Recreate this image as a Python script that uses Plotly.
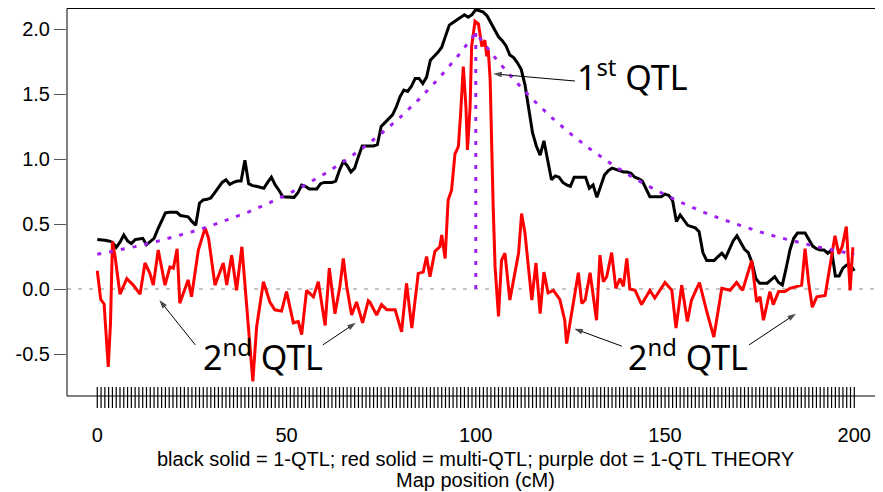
import plotly.graph_objects as go

# ---- data ----
black_pos = list(range(0, 201))
black_val = [0.38, 0.38, 0.375, 0.37, 0.36, 0.32, 0.36, 0.415, 0.37, 0.35,
             0.38, 0.385, 0.39, 0.34, 0.365, 0.39, 0.46, 0.52, 0.585, 0.59,
             0.59, 0.59, 0.565, 0.56, 0.555, 0.52, 0.49, 0.66, 0.685, 0.69,
             0.70, 0.74, 0.78, 0.82, 0.84, 0.805, 0.82, 0.83, 0.83, 0.99,
             0.81, 0.795, 0.79, 0.78, 0.775, 0.82, 0.86, 0.80, 0.76, 0.71,
             0.71, 0.71, 0.705, 0.74, 0.80, 0.79, 0.77, 0.77, 0.77, 0.81,
             0.82, 0.82, 0.82, 0.83, 0.915, 0.98, 0.95, 0.90, 0.93, 1.02,
             1.10, 1.10, 1.10, 1.10, 1.11, 1.25, 1.28, 1.31, 1.34, 1.40,
             1.48, 1.53, 1.52, 1.56, 1.62, 1.62, 1.58, 1.63, 1.76, 1.79,
             1.82, 1.86, 1.95, 2.03, 2.05, 2.07, 2.09, 2.11, 2.09, 2.11,
             2.15, 2.14, 2.13, 2.10, 2.05, 1.99, 1.94, 1.91, 1.87, 1.80,
             1.78, 1.74, 1.69, 1.57, 1.38, 1.20, 1.10, 1.03, 1.14, 1.00,
             0.84, 0.87, 0.86, 0.82, 0.80, 0.79, 0.86, 0.86, 0.86, 0.86,
             0.775, 0.80, 0.705, 0.80, 0.877, 0.91, 0.93, 0.92, 0.91, 0.90,
             0.90, 0.89, 0.86, 0.85, 0.83, 0.77, 0.71, 0.71, 0.71, 0.71,
             0.73, 0.72, 0.68, 0.52, 0.57, 0.53, 0.49, 0.48, 0.47, 0.44,
             0.28, 0.22, 0.22, 0.22, 0.25, 0.275, 0.24, 0.30, 0.37, 0.41,
             0.36, 0.305, 0.28, 0.20, 0.08, 0.045, 0.045, 0.045, 0.07, 0.095,
             0.05, 0.03, 0.16, 0.30, 0.39, 0.43, 0.43, 0.43, 0.38, 0.33,
             0.31, 0.30, 0.30, 0.275, 0.30, 0.10, 0.10, 0.16, 0.185, 0.185,
             0.14]

red_pos = [0, 0.9, 1.8, 2.9, 3.5, 4.0, 4.7, 6.0, 7.8, 9.5, 11.3, 12.6, 13.9, 14.8,
           16.1, 17.9, 19.2, 20.1, 21.1, 21.8, 24.0, 24.9, 26.7, 28.5, 29.4, 31.1,
           33.3, 34.2, 35.5, 36.8, 38.2, 39.5, 40.3, 41.1, 42.1, 43.9, 45.6, 46.9,
           48.7, 50.0, 51.8, 53.1, 54.0, 55.3, 57.1, 58.4, 60.2, 61.3, 62.8, 64.1,
           65.0, 65.9, 67.2, 68.5, 70.1, 71.6, 72.0, 73.8, 75.1, 76.5, 78.7, 80.4,
           81.7, 83.1, 84.8, 86.1, 87.0, 87.9, 89.2, 90.5, 91.0, 91.9, 92.7, 93.6,
           94.5, 95.4, 96.0, 96.7, 97.4, 97.8, 98.5, 98.9, 99.8, 100.7, 101.6,
           102.4, 102.9, 103.3, 103.8, 104.2, 104.6, 105.1, 106.0, 106.8, 107.7,
           109.0, 110.4, 111.3, 112.1, 113.0, 113.9, 114.8, 115.9, 117.0, 118.0,
           119.1, 120.5, 122.2, 123.5, 124.0, 125.3, 127.1, 128.0, 128.9, 130.2,
           131.9, 132.8, 133.7, 134.6, 135.9, 137.0, 138.1, 139.0, 139.9, 140.7,
           142.1, 143.8, 146.0, 147.3, 150.0, 151.8, 152.9, 154.4, 155.9, 157.0,
           159.1, 161.0, 162.9, 165.0, 167.2, 168.9, 170.5, 172.9, 174.2, 175.1,
           176.0, 177.7, 178.6, 180.0, 181.7, 183.0, 185.2, 186.1, 187.0, 187.9,
           188.9, 190.1, 192.3, 193.6, 194.9, 195.9, 196.8, 197.9, 198.9, 199.6,
           200.0]
red_val = [0.14, -0.08, -0.115, -0.60, -0.26, 0.365, 0.25, -0.04, 0.08, 0.03, -0.04,
           0.20, 0.12, 0.03, 0.30, 0.03, 0.17, 0.16, 0.31, -0.11, 0.07, -0.06, 0.30,
           0.47, 0.39, 0.03, 0.20, 0.03, 0.26, -0.01, 0.325, -0.12, -0.37, -0.71,
           -0.29, 0.056, -0.10, -0.16, -0.17, -0.02, -0.26, -0.25, -0.35, -0.01,
           -0.06, 0.056, -0.28, 0.16, -0.19, 0.02, 0.235, 0.02, -0.20, -0.10, -0.26,
           -0.09, -0.10, -0.20, -0.12, -0.16, -0.16, -0.33, 0.044, -0.30, 0.12, 0.13,
           0.25, 0.095, 0.29, 0.325, 0.415, 0.235, 0.685, 0.76, 1.04, 1.095, 1.35,
           1.71, 1.40, 1.07, 1.40, 1.865, 2.06, 2.04, 1.865, 1.915, 1.79, 1.84, 1.61,
           1.07, 0.63, 0.17, -0.21, 0.22, 0.275, -0.085, 0.12, 0.275, 0.58, 0.43,
           0.17, -0.085, 0.20, -0.19, 0.13, -0.03, -0.01, -0.08, -0.24, -0.42, -0.19,
           0.125, -0.11, -0.085, 0.125, -0.24, 0.26, 0.056, 0.095, 0.28, 0.005, 0.08,
           0.02, 0.235, 0.0, -0.01, -0.12, -0.01, -0.07, 0.05, -0.01, -0.30, 0.03,
           -0.25, -0.085, 0.05, -0.17, -0.37, 0.005, -0.01, 0.05, -0.01, 0.22, -0.10,
           -0.06, -0.24, -0.02, -0.12, -0.02, -0.02, 0.005, 0.02, 0.03, 0.31, 0.06,
           -0.14, -0.06, -0.05, 0.19, 0.41, 0.27, 0.325, 0.48, -0.01, 0.31, 0.31]

theory_pos = list(range(0, 201, 5))
theory_val = [0.267, 0.295, 0.326, 0.360, 0.398, 0.440, 0.486, 0.537, 0.593, 0.656,
              0.725, 0.801, 0.885, 0.978, 1.081, 1.195, 1.320, 1.459, 1.613, 1.782,
              1.970,
              1.782, 1.613, 1.459, 1.320, 1.195, 1.081, 0.978, 0.885, 0.801, 0.725,
              0.656, 0.593, 0.537, 0.486, 0.440, 0.398, 0.360, 0.326, 0.295, 0.267]
qtl1_pos = 100
qtl1_peak = 1.97

markers = list(range(0, 201))

x_ticks = [0, 50, 100, 150, 200]
y_ticks = [-0.5, 0.0, 0.5, 1.0, 1.5, 2.0]
y_ticktext = ["-0.5", "0.0", "0.5", "1.0", "1.5", "2.0"]

# ---- geometry (page pixels; the page body has an 8px margin) ----
OFF = 8
W, H = 883 - OFF, 492 - OFF
PLOT_LEFT_PG, PLOT_TOP_PG, PLOT_BOT_PG = 67, 8, 408
ML = PLOT_LEFT_PG - OFF
MT = PLOT_TOP_PG - OFF
MB = (H + OFF) - PLOT_BOT_PG
plot_h = H - MT - MB
Y0_PG = 289.0
PX_PER_UNIT = 130.0
y_top = (Y0_PG - PLOT_TOP_PG) / PX_PER_UNIT
y_bot = (Y0_PG - PLOT_BOT_PG) / PX_PER_UNIT
X_PER_CM = 3.785
x_lo = -8.0
x_hi = x_lo + (W - ML) / X_PER_CM


def pg_to_paper(py):
    return (PLOT_BOT_PG - py) / plot_h


PURPLE_DASH = "4px,8px"

fig = go.Figure()

fig.add_trace(go.Scatter(x=black_pos, y=black_val, mode="lines",
                         line=dict(color="black", width=3), hoverinfo="skip"))
fig.add_trace(go.Scatter(x=red_pos, y=red_val, mode="lines",
                         line=dict(color="#FF0000", width=3), hoverinfo="skip"))
fig.add_trace(go.Scatter(x=theory_pos, y=theory_val, mode="lines",
                         line=dict(color="#A020F0", width=3, dash=PURPLE_DASH),
                         hoverinfo="skip"))
fig.add_trace(go.Scatter(x=[qtl1_pos, qtl1_pos], y=[0, qtl1_peak], mode="lines",
                         line=dict(color="#A020F0", width=3, dash=PURPLE_DASH),
                         hoverinfo="skip"))

# rug of marker positions
rug_top = (Y0_PG - 387) / PX_PER_UNIT
rx, ry = [], []
for m in markers:
    rx += [m, m, None]
    ry += [rug_top, y_bot, None]
fig.add_trace(go.Scatter(x=rx, y=ry, mode="lines",
                         line=dict(color="black", width=1.2), hoverinfo="skip"))

# arrows (tail -> head), as line + arrow marker
arrows = [
    ((126.2, 1.60), (104.6, 1.655)),
    ((25.9, -0.43), (16.4, -0.085)),
    ((59.6, -0.43), (68.3, -0.26)),
    ((138.6, -0.44), (126.0, -0.305)),
    ((172.2, -0.43), (184.6, -0.19)),
]
for (tx, ty), (hx, hy) in arrows:
    fig.add_trace(go.Scatter(
        x=[tx, hx], y=[ty, hy], mode="lines+markers",
        line=dict(color="black", width=1),
        marker=dict(symbol=["circle", "arrow"], size=[0, 9], color="black",
                    angleref="previous", line=dict(width=0)),
        hoverinfo="skip"))

shapes = [
    dict(type="line", xref="paper", yref="y", x0=0, x1=1, y0=0, y1=0,
         line=dict(color="#C4C4C4", width=2, dash="4px,7px"), layer="below"),
    dict(type="rect", xref="paper", yref="paper", x0=0, x1=1.01,
         y0=pg_to_paper(396), y1=pg_to_paper(8.5),
         line=dict(color="black", width=1), fillcolor="rgba(0,0,0,0)"),
]

ann_font = dict(family="Noto Sans", size=34, color="black")
annotations = [
    dict(x=126.3, y=1.645, xref="x", yref="y", text="1<sup>st</sup> QTL",
         showarrow=False, xanchor="left", yanchor="middle", font=ann_font),
    dict(x=27.3, y=-0.51, xref="x", yref="y", text="2<sup>nd</sup> QTL",
         showarrow=False, xanchor="left", yanchor="middle", font=ann_font),
    dict(x=139.8, y=-0.51, xref="x", yref="y", text="2<sup>nd</sup> QTL",
         showarrow=False, xanchor="left", yanchor="middle", font=ann_font),
]

axis_font = dict(family="Liberation Sans, Arial", size=20, color="black")
annotations.append(dict(x=0.5, y=pg_to_paper(459), xref="paper", yref="paper",
                        text="black solid = 1-QTL; red solid = multi-QTL; purple dot = 1-QTL THEORY",
                        showarrow=False, xanchor="center", yanchor="middle",
                        font=axis_font))
annotations.append(dict(x=0.5, y=pg_to_paper(480), xref="paper", yref="paper",
                        text="Map position (cM)", showarrow=False,
                        xanchor="center", yanchor="middle", font=axis_font))

fig.update_layout(
    width=W, height=H,
    margin=dict(l=ML, r=0, t=MT, b=MB, pad=0),
    paper_bgcolor="white", plot_bgcolor="white",
    showlegend=False,
    shapes=shapes,
    annotations=annotations,
    xaxis=dict(range=[x_lo, x_hi], tickvals=x_ticks, ticktext=[str(v) for v in x_ticks],
               showgrid=False, zeroline=False, showline=False,
               ticks="outside", ticklen=9, tickcolor="rgba(0,0,0,0)",
               tickfont=axis_font),
    yaxis=dict(range=[y_bot, y_top], tickvals=y_ticks, ticktext=y_ticktext,
               showgrid=False, zeroline=False, showline=False,
               ticks="outside", ticklen=12, tickcolor="#555", tickwidth=1,
               tickfont=axis_font),
)

fig.write_html("out.html")
